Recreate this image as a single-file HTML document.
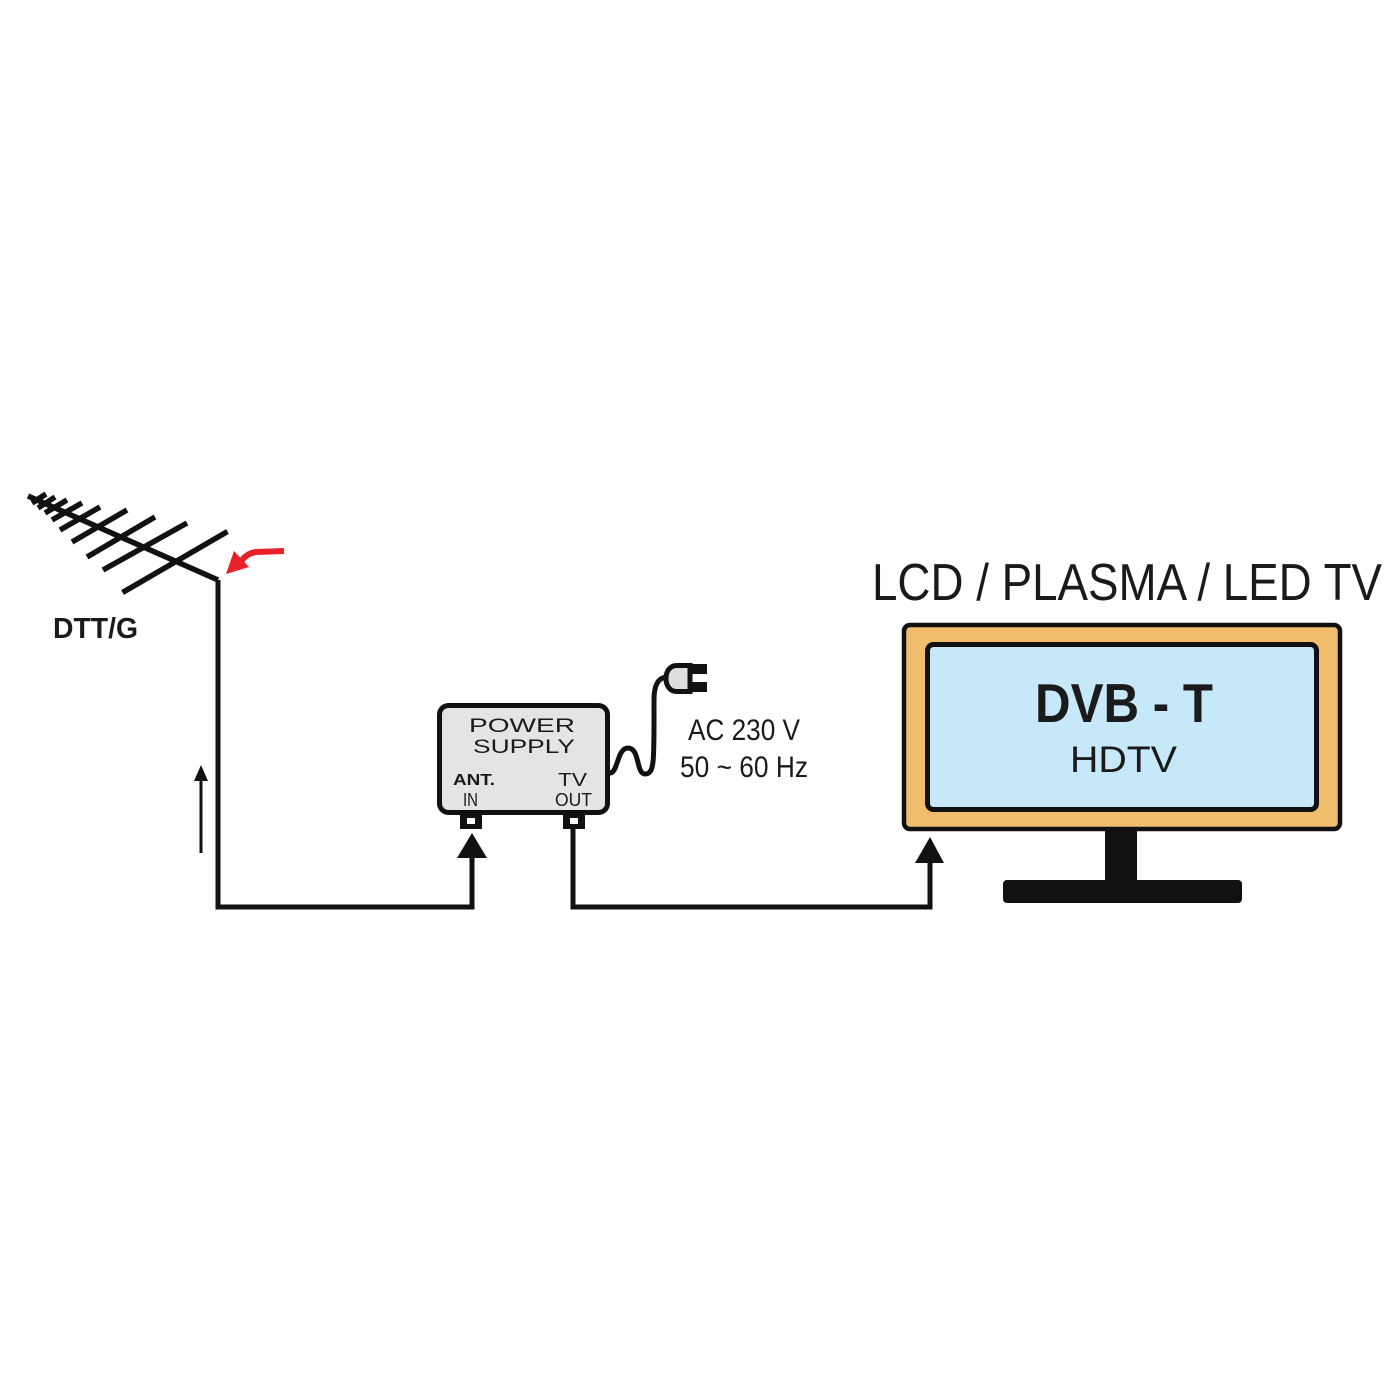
<!DOCTYPE html>
<html>
<head>
<meta charset="utf-8">
<style>
  html, body { margin: 0; padding: 0; background: #ffffff; }
  svg { display: block; }
  text { font-family: "Liberation Sans", Arial, sans-serif; fill: #1a1a1a; }
</style>
</head>
<body>
<svg width="1400" height="1400" viewBox="0 0 1400 1400" xmlns="http://www.w3.org/2000/svg">
  <rect x="0" y="0" width="1400" height="1400" fill="#ffffff"/>

  <!-- Antenna -->
  <g stroke="#111" stroke-width="5.5" stroke-linecap="butt" fill="none">
    <line x1="28" y1="496" x2="218" y2="580"/>
    <line x1="122.5" y1="592.5" x2="227.5" y2="531.5"/>
    <line x1="103" y1="570" x2="187" y2="523"/>
    <line x1="87" y1="557" x2="155" y2="517"/>
    <line x1="72" y1="542" x2="127" y2="510"/>
    <line x1="60" y1="530" x2="100" y2="507"/>
    <line x1="52" y1="520" x2="82" y2="503"/>
    <line x1="45" y1="513" x2="67" y2="500"/>
    <line x1="38" y1="508" x2="55" y2="497"/>
    <line x1="32" y1="503" x2="46" y2="494"/>
  </g>
  <text x="53" y="638" font-size="29" font-weight="bold" textLength="85" lengthAdjust="spacingAndGlyphs">DTT/G</text>

  <!-- Red arrow -->
  <path d="M284,551 L256,552 C248,553 243,558 240,563" stroke="#e8202a" stroke-width="6" fill="none"/>
  <polygon points="226,574 234,551 249,567" fill="#e8202a"/>

  <!-- Thin up arrow -->
  <line x1="201" y1="778" x2="201" y2="853" stroke="#111" stroke-width="3"/>
  <polygon points="201,765 194,781 208,781" fill="#111"/>

  <!-- Main cable: antenna -> ANT IN -->
  <path d="M218,580 V907 H472 V856" stroke="#111" stroke-width="5" fill="none"/>
  <polygon points="472,833 457,858 487,858" fill="#111"/>

  <!-- TV OUT -> TV -->
  <path d="M573,828 V907 H930 V860" stroke="#111" stroke-width="5" fill="none"/>
  <polygon points="930,837 915,863 944,863" fill="#111"/>

  <!-- Power supply box -->
  <rect x="439.5" y="705.5" width="168" height="107" rx="9" ry="9" fill="#e4e4e4" stroke="#111" stroke-width="5"/>
  <text x="469" y="732" font-size="19" textLength="106" lengthAdjust="spacingAndGlyphs">POWER</text>
  <text x="473" y="753" font-size="19" textLength="102" lengthAdjust="spacingAndGlyphs">SUPPLY</text>
  <text x="453" y="785" font-size="16" font-weight="bold" textLength="42" lengthAdjust="spacingAndGlyphs">ANT.</text>
  <text x="463" y="806" font-size="18" textLength="15" lengthAdjust="spacingAndGlyphs">IN</text>
  <text x="558" y="786" font-size="18" textLength="29" lengthAdjust="spacingAndGlyphs">TV</text>
  <text x="555" y="806" font-size="18" textLength="37" lengthAdjust="spacingAndGlyphs">OUT</text>

  <!-- connectors -->
  <rect x="460" y="815" width="22" height="14" fill="#111"/>
  <rect x="467" y="818" width="8" height="6" fill="#ffffff"/>
  <rect x="563" y="815" width="22" height="14" fill="#111"/>
  <rect x="570" y="818" width="8" height="6" fill="#ffffff"/>

  <!-- Power cable & plug -->
  <path d="M610,773 C618,773 617,748 628,748 C640,748 636,774 645,774 C655,774 654,760 654,700 C654,685 658,677 668,677" stroke="#111" stroke-width="5" fill="none"/>
  <path d="M690,665.5 H677 C670,665.5 666,671 666,678.5 C666,686 670,691.5 677,691.5 H690 Z" fill="#dddddd" stroke="#111" stroke-width="5"/>
  <rect x="688" y="664" width="19" height="10" fill="#111"/>
  <rect x="688" y="682" width="19" height="10" fill="#111"/>

  <text x="688" y="740" font-size="30" textLength="112" lengthAdjust="spacingAndGlyphs">AC 230 V</text>
  <text x="680" y="777" font-size="30" textLength="128" lengthAdjust="spacingAndGlyphs">50 ~ 60 Hz</text>

  <!-- TV -->
  <text x="872" y="600" font-size="52" textLength="510" lengthAdjust="spacingAndGlyphs">LCD / PLASMA / LED TV</text>
  <rect x="904" y="625" width="436" height="204" rx="6" ry="6" fill="#efbd6b" stroke="#111" stroke-width="4.5"/>
  <rect x="927.5" y="644.5" width="389" height="165" rx="6" ry="6" fill="#c6e8f8" stroke="#111" stroke-width="5"/>
  <text x="1035" y="722" font-size="55" font-weight="bold" textLength="178" lengthAdjust="spacingAndGlyphs">DVB - T</text>
  <text x="1070" y="772" font-size="37" textLength="107" lengthAdjust="spacingAndGlyphs">HDTV</text>
  <rect x="1105" y="829" width="32" height="54" fill="#111"/>
  <rect x="1003" y="880" width="239" height="23" rx="4" ry="4" fill="#111"/>
</svg>
</body>
</html>
